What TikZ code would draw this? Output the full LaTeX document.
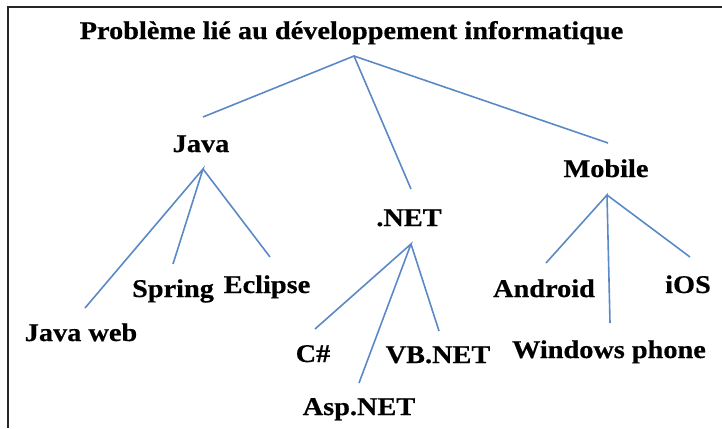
\documentclass[tikz,border=0pt]{standalone}
\usepackage{fontspec}
\setmainfont{Liberation Serif}[FakeStretch=1.11,BoldFeatures={FakeBold=0.5}]
\definecolor{branch}{RGB}{91,137,198}

\begin{document}
\begin{tikzpicture}[x=1bp,y=-1bp,every node/.style={font=\bfseries\fontsize{25.5bp}{30bp}\selectfont,anchor=base,inner sep=0pt},link/.style={branch,line width=1.6bp}]
  \useasboundingbox (0,0) rectangle (722,428);
  \draw[line width=1.6bp,black!85] (8,428) -- (8,7) -- (722,7);
  \node (root) at (351.5,39) {Problème lié au développement informatique};
  \node (java) at (201,152) {Java};
  \node (net) at (409,226) {.NET};
  \node (mobile) at (606,177) {Mobile};
  \node (javaweb) at (81,341) {Java web};
  \node (spring) at (173,297) {Spring};
  \node (eclipse) at (267,293) {Eclipse};
  \node (csharp) at (313,362) {C\#};
  \node (asp) at (359,415) {Asp.NET};
  \node (vb) at (438,363) {VB.NET};
  \node (android) at (544,297) {Android};
  \node (windows) at (609,358) {Windows phone};
  \node (ios) at (688,293) {iOS};
  % points where the branches meet
  \coordinate (rootb) at (354,56);
  \coordinate (javab) at (203,169);
  \coordinate (netb) at (411,244);
  \coordinate (mobileb) at (607,195);
  % free ends above the children
  \coordinate (javat) at (203,117);
  \coordinate (nett) at (411,189);
  \coordinate (mobilet) at (608,143);
  \coordinate (javawebt) at (85,308);
  \coordinate (springt) at (173,264);
  \coordinate (eclipset) at (270,257);
  \coordinate (csharpt) at (315,329);
  \coordinate (aspt) at (359,383);
  \coordinate (vbt) at (439,331);
  \coordinate (androidt) at (546,263);
  \coordinate (windowst) at (610,323);
  \coordinate (iost) at (690,257);
  \draw[link](javat)--(rootb)--(nett);
  \draw[link](rootb)--(mobilet);
  \draw[link](javawebt)--(javab)--(springt);
  \draw[link](javab)--(eclipset);
  \draw[link](csharpt)--(netb)--(aspt);
  \draw[link](netb)--(vbt);
  \draw[link](androidt)--(mobileb)--(windowst);
  \draw[link](mobileb)--(iost);
\end{tikzpicture}
\end{document}
